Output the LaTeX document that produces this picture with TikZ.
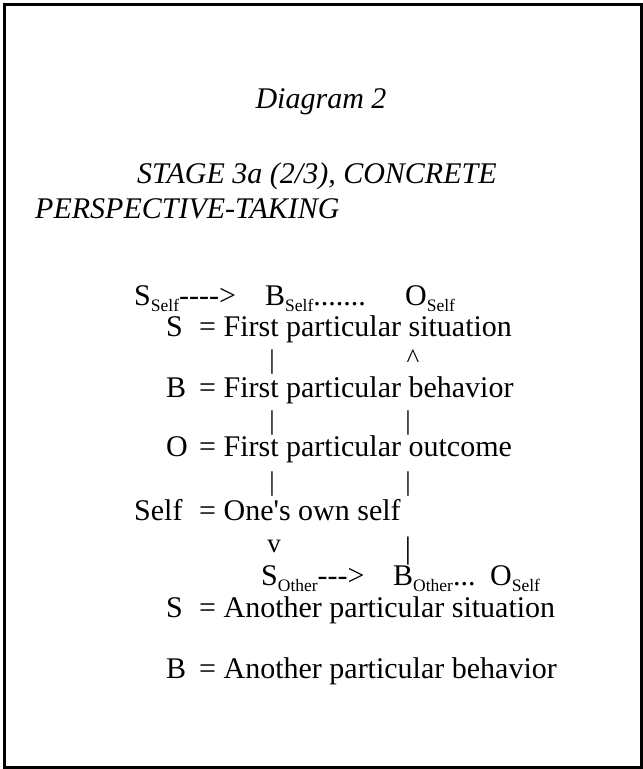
\documentclass[tikz,border=0pt]{standalone}
\usepackage{fontspec}
\setmainfont{Liberation Serif}[Ligatures=TeXOff]
\usetikzlibrary{positioning}

\newcommand{\lowsub}[1]{\raisebox{-6pt}[\height][6pt]{\fontsize{17.5}{18}\selectfont #1}}

\begin{document}
\begin{tikzpicture}[x=1pt, y=-1pt,
  txt/.style={anchor=base west, inner sep=0pt, font=\fontsize{30}{36}\selectfont},
  ttl/.style={txt, font=\fontsize{30}{36}\selectfont\itshape},
  link/.style={anchor=base, inner sep=0pt, font=\fontsize{27}{30}\selectfont}]

\useasboundingbox (0,0) rectangle (643,769);

% Frame
\draw[line width=3pt] (4.5,4.5) rectangle (641.5,767.5);

% Title
\node[ttl, anchor=base] (title) at (321,108) {Diagram 2};
\node[ttl] (stage) at (137,183) {STAGE 3a (2/3), CONCRETE};
\node[ttl] (persp) at (35,218) {PERSPECTIVE-TAKING};

% --- Self sequence ---
\node[txt] (sself) at (134,305) {S\lowsub{Self}---->};
\node[txt] (bself) at (265,305) {B\lowsub{Self}.......};
\node[txt] (oself) at (405,305) {O\lowsub{Self}};

\node[txt] (skey) at (166,336) {S};
\node[txt] (sdef) at (199,336) {= First particular situation};

\node[link] (barA) at (272,368) {|};
\node[link] (upA) at (413,367) {\^{}};

\node[txt] (bkey) at (166,397) {B};
\node[txt] (bdef) at (199,397) {= First particular behavior};

\node[link] (barB) at (272,429) {|};
\node[link] (barC) at (408,429) {|};

\node[txt] (okey) at (166,456) {O};
\node[txt] (odef) at (199,456) {= First particular outcome};

\node[link] (barD) at (272,490) {|};
\node[link] (barE) at (408,490) {|};

\node[txt] (selfkey) at (134,520) {Self};
\node[txt] (selfdef) at (199,520) {= One's own self};

\node[link] (downA) at (274,552) {v};
\node[link, font=\fontsize{31}{36}\selectfont] (barF) at (408,558) {|};

% --- Other sequence ---
\node[txt] (sother) at (261,585) {S\lowsub{Other}--->};
\node[txt] (bother) at (393,585) {B\lowsub{Other}...};
\node[txt] (oother) at (490,585) {O\lowsub{Self}};

\node[txt] (s2key) at (166,617) {S};
\node[txt] (s2def) at (199,617) {= Another particular situation};

\node[txt] (b2key) at (166,678) {B};
\node[txt] (b2def) at (199,678) {= Another particular behavior};

\end{tikzpicture}
\end{document}
